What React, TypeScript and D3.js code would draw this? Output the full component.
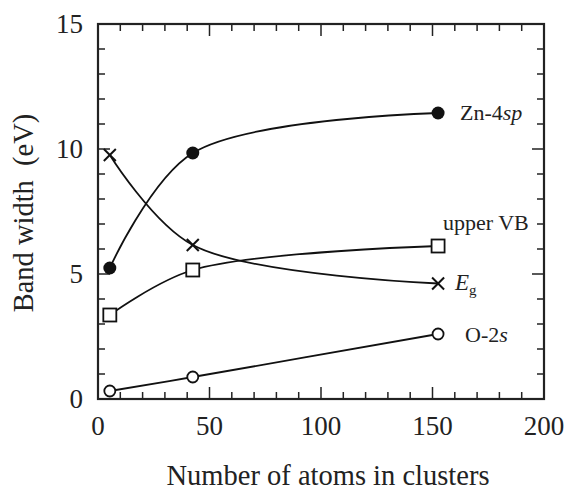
import React from "react";
import * as d3 from "d3";

const xValues = [5.3, 42.5, 152.5];
const zn4sp = [5.24, 9.84, 11.44];
const eg = [9.76, 6.16, 4.62];
const upperVB = [3.36, 5.16, 6.12];
const o2s = [0.32, 0.88, 2.6];
const xTicks = [0, 50, 100, 150, 200];
const yTicks = [0, 5, 10, 15];

const W = 573, H = 491;
const M = { left: 98, right: 544, top: 24, bottom: 399 };
const FONT = "'Liberation Serif', 'DejaVu Serif', serif";

export default function App() {
  const x = d3.scaleLinear().domain([0, 200]).range([M.left, M.right]);
  const y = d3.scaleLinear().domain([0, 15]).range([M.bottom, M.top]);
  const line = d3.line<number>().x((_, i) => x(xValues[i])).y((d) => y(d)).curve(d3.curveCatmullRom.alpha(0.5));

  const xMinor = d3.range(0, 201, 10);
  const yMinor = d3.range(0, 16, 1);

  const series = [zn4sp, eg, upperVB, o2s];

  return (
    <svg width={W} height={H} style={{ position: "absolute", left: 0, top: 0, background: "#fff" }}>
      {xMinor.map((v) => {
        const major = v % 50 === 0;
        const len = major ? 12 : 7;
        return (
          <g key={"xt" + v} stroke="#222" strokeWidth={1.5}>
            <line x1={x(v)} x2={x(v)} y1={M.bottom} y2={M.bottom - len} />
            <line x1={x(v)} x2={x(v)} y1={M.top} y2={M.top + len} />
          </g>
        );
      })}
      {yMinor.map((v) => {
        const major = v % 5 === 0;
        const len = major ? 12 : 7;
        return (
          <g key={"yt" + v} stroke="#222" strokeWidth={1.5}>
            <line x1={M.left} x2={M.left + len} y1={y(v)} y2={y(v)} />
            <line x1={M.right} x2={M.right - len} y1={y(v)} y2={y(v)} />
          </g>
        );
      })}
      <rect x={M.left} y={M.top} width={M.right - M.left} height={M.bottom - M.top} fill="none" stroke="#222" strokeWidth={2.2} />

      {xTicks.map((v) => (
        <text key={"xl" + v} x={x(v)} y={435} textAnchor="middle" fontFamily={FONT} fontSize={27} fill="#222">{v}</text>
      ))}
      {yTicks.map((v) => (
        <text key={"yl" + v} x={83} y={y(v) + 9} textAnchor="end" fontFamily={FONT} fontSize={27} fill="#222">{v}</text>
      ))}

      <text x={328} y={485} textAnchor="middle" fontFamily={FONT} fontSize={28.5} fill="#222">Number of atoms in clusters</text>
      <text transform={`translate(33, 213) rotate(-90)`} textAnchor="middle" fontFamily={FONT} fontSize={28.5} fill="#222" style={{ whiteSpace: "pre" }}>Band width  (eV)</text>

      {series.map((s, i) => (
        <path key={"p" + i} d={line(s) || ""} fill="none" stroke="#111" strokeWidth={1.8} />
      ))}

      {zn4sp.map((v, i) => (
        <circle key={"zn" + i} cx={x(xValues[i])} cy={y(v)} r={6.5} fill="#111" />
      ))}
      {eg.map((v, i) => {
        const cx = x(xValues[i]), cy = y(v), s = 6;
        return (
          <g key={"eg" + i} stroke="#111" strokeWidth={2}>
            <line x1={cx - s} y1={cy - s} x2={cx + s} y2={cy + s} />
            <line x1={cx - s} y1={cy + s} x2={cx + s} y2={cy - s} />
          </g>
        );
      })}
      {upperVB.map((v, i) => (
        <rect key={"vb" + i} x={x(xValues[i]) - 6.5} y={y(v) - 6.5} width={13} height={13} fill="#fff" stroke="#111" strokeWidth={1.8} />
      ))}
      {o2s.map((v, i) => (
        <circle key={"o" + i} cx={x(xValues[i])} cy={y(v)} r={5.5} fill="#fff" stroke="#111" strokeWidth={1.8} />
      ))}

      <text x={460} y={120} fontFamily={FONT} fontSize={22} fill="#222">Zn-4<tspan fontStyle="italic">sp</tspan></text>
      <text x={443} y={230} fontFamily={FONT} fontSize={22} fill="#222">upper VB</text>
      <text x={455} y={290} fontFamily={FONT} fontSize={23} fill="#222"><tspan fontStyle="italic">E</tspan><tspan fontSize={15} dy={5}>g</tspan></text>
      <text x={465} y={342} fontFamily={FONT} fontSize={22} fill="#222">O-2<tspan fontStyle="italic">s</tspan></text>
    </svg>
  );
}
